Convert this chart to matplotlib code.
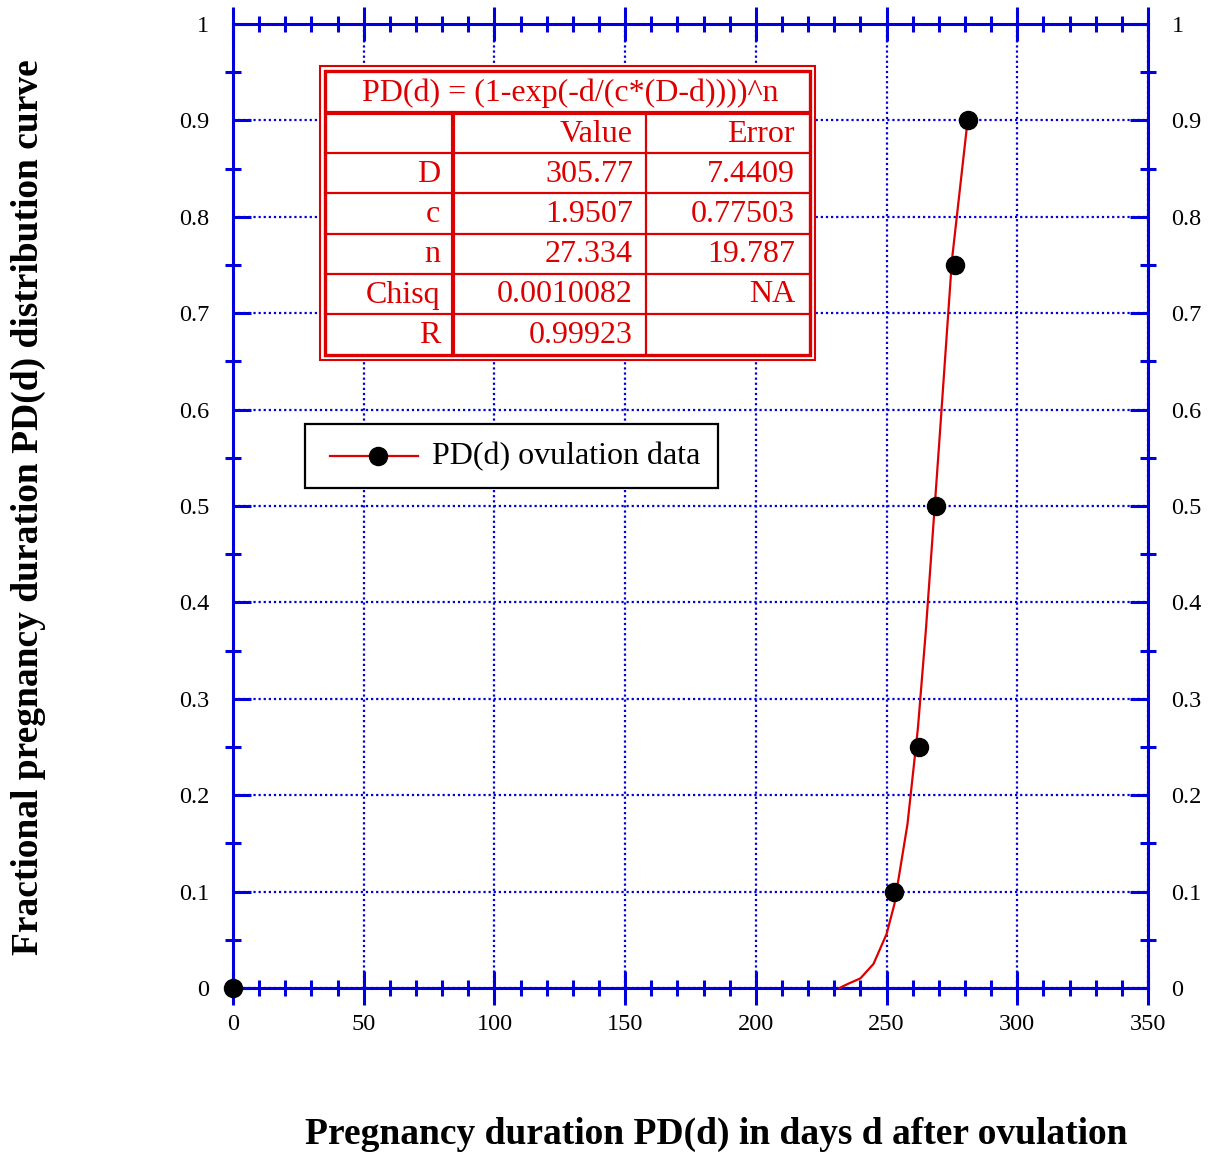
import matplotlib
matplotlib.use("Agg")
import matplotlib.pyplot as plt
from matplotlib.patches import Rectangle
from matplotlib.lines import Line2D
from matplotlib.ticker import MultipleLocator

# ---- data ----
data_days = [0, 253, 262.5, 269, 276, 281]
data_pd = [0.0, 0.10, 0.25, 0.50, 0.75, 0.90]

curve_days = [232, 235, 240, 245, 250, 253, 258, 262, 265, 270, 275, 281]
curve_pd = [0.0, 0.004, 0.010, 0.025, 0.056, 0.087, 0.17, 0.27, 0.37, 0.56, 0.755, 0.90]

formula = "PD(d) = (1-exp(-d/(c*(D-d))))^n"
table_header = ["", "Value", "Error"]
table_rows = [
    ["D", "305.77", "7.4409"],
    ["c", "1.9507", "0.77503"],
    ["n", "27.334", "19.787"],
    ["Chisq", "0.0010082", "NA"],
    ["R", "0.99923", ""],
]
legend_label = "PD(d) ovulation data"
xlabel = "Pregnancy duration PD(d) in days d after ovulation"
ylabel = "Fractional pregnancy duration PD(d) distribution curve"

BLUE = "#0000dd"
RED = "#dd0000"
SERIF = "Liberation Serif"
plt.rcParams["font.family"] = SERIF

W, H = 1211, 1155
fig = plt.figure(figsize=(W / 100, H / 100), dpi=100)

def fx(px):
    return px / W

def fy(py):
    return 1 - py / H

ax = fig.add_axes([fx(233), fy(988), fx(1148) - fx(233), fy(24) - fy(988)])
ax.set_xlim(0, 350)
ax.set_ylim(0, 1)

for s in ax.spines.values():
    s.set_color(BLUE)
    s.set_linewidth(2.2)

ax.xaxis.set_minor_locator(MultipleLocator(10))
ax.yaxis.set_minor_locator(MultipleLocator(0.05))

ax.set_xticks([0, 50, 100, 150, 200, 250, 300, 350])
ax.set_xticklabels(["0", "50", "100", "150", "200", "250", "300", "350"])
yt = [0, 0.1, 0.2, 0.3, 0.4, 0.5, 0.6, 0.7, 0.8, 0.9, 1.0]
ax.set_yticks(yt)
ax.set_yticklabels(["0", "0.1", "0.2", "0.3", "0.4", "0.5", "0.6", "0.7", "0.8", "0.9", "1"])

ax.tick_params(axis="x", which="major", direction="inout", length=24, width=2.2,
               color=BLUE, top=True, bottom=True, labelsize=17.5, pad=7)
ax.tick_params(axis="y", which="major", direction="in", length=13, width=2.2,
               color=BLUE, left=True, right=True, labelleft=True, labelright=True,
               labelsize=17.5, pad=17)
ax.tick_params(which="minor", direction="inout", length=12, width=2.2,
               color=BLUE, top=True, bottom=True, left=True, right=True)

ax.grid(True, which="major", color=BLUE, linestyle=(0, (1.0, 1.3)), linewidth=1.6)
ax.set_axisbelow(True)

ax.plot(curve_days, curve_pd, color=RED, linewidth=1.6, zorder=3, clip_on=False)
ax.plot(data_days, data_pd, linestyle="none", marker="o", markersize=13,
        color="black", zorder=4, clip_on=False)

# ---- fit table (drawn in figure pixel coordinates) ----
tz = 10
fig.patches.append(Rectangle((fx(320), fy(360)), fx(815) - fx(320), fy(66) - fy(360),
                             transform=fig.transFigure, facecolor="white",
                             edgecolor=RED, linewidth=1.5, zorder=tz))
fig.patches.append(Rectangle((fx(325), fy(355)), fx(810) - fx(325), fy(71) - fy(355),
                             transform=fig.transFigure, facecolor="none",
                             edgecolor=RED, linewidth=2.4, zorder=tz + 1))

row_edges = [113, 153, 193, 234, 274, 314, 355]

def hline(y, x0, x1, lw):
    fig.lines.append(Line2D([fx(x0), fx(x1)], [fy(y), fy(y)], transform=fig.transFigure,
                            color=RED, linewidth=lw, zorder=tz + 2))

def vline(x, y0, y1, lw):
    fig.lines.append(Line2D([fx(x), fx(x)], [fy(y0), fy(y1)], transform=fig.transFigure,
                            color=RED, linewidth=lw, zorder=tz + 2))

hline(113, 327, 808, 3.0)
for y in row_edges[1:-1]:
    hline(y, 325, 810, 1.6)
vline(453, 113, 355, 3.0)
vline(646, 113, 355, 1.6)

fig.text(fx(570), fy(93), formula, ha="center", va="center", fontsize=23,
         color=RED, zorder=tz + 3)
col_right = [440, 633, 795]
all_rows = [table_header] + table_rows
for i, row in enumerate(all_rows):
    yc = (row_edges[i] + row_edges[i + 1]) / 2 + 1
    for j, txt in enumerate(row):
        if txt:
            fig.text(fx(col_right[j]), fy(yc), txt, ha="right", va="center",
                     fontsize=23, color=RED, zorder=tz + 3)

# ---- legend ----
fig.patches.append(Rectangle((fx(305), fy(488)), fx(718) - fx(305), fy(424) - fy(488),
                             transform=fig.transFigure, facecolor="white",
                             edgecolor="black", linewidth=1.6, zorder=tz))
fig.lines.append(Line2D([fx(330), fx(418)], [fy(456), fy(456)], transform=fig.transFigure,
                        color=RED, linewidth=1.6, zorder=tz + 1))
fig.lines.append(Line2D([fx(378)], [fy(456)], transform=fig.transFigure, marker="o",
                        markersize=13, color="black", linestyle="none", zorder=tz + 2))
fig.text(fx(432), fy(457), legend_label, ha="left", va="center", fontsize=23,
         color="black", zorder=tz + 3)

# ---- axis labels ----
fig.text(fx(716), fy(1134), xlabel, ha="center", va="center", fontsize=27,
         fontweight="bold")
fig.text(fx(28), fy(507), ylabel, ha="center", va="center", fontsize=27,
         fontweight="bold", rotation=90)

fig.savefig("out.png", dpi=100)
